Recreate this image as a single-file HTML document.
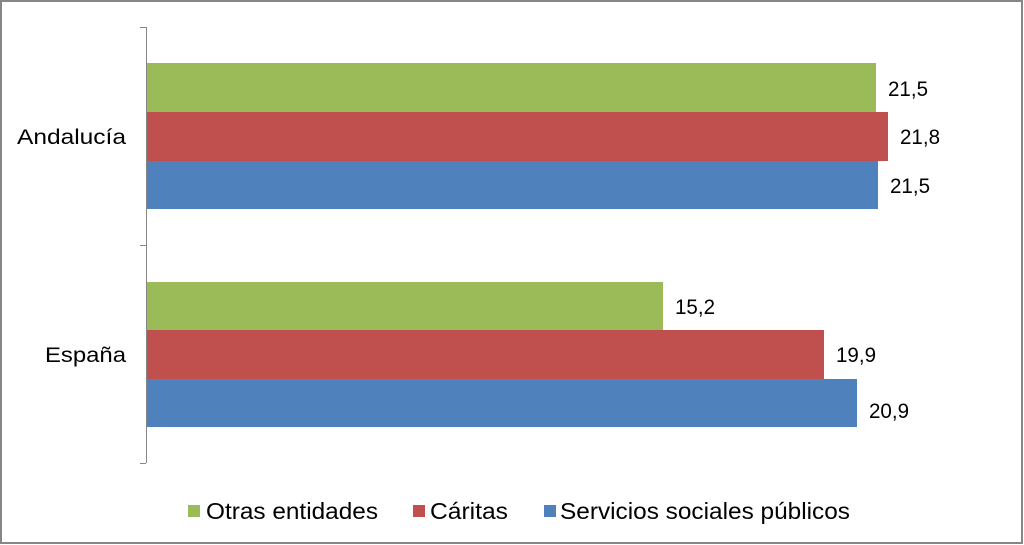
<!DOCTYPE html>
<html><head><meta charset="utf-8"><style>
html,body{margin:0;padding:0;background:#fff}
svg{display:block}
text{font-family:"Liberation Sans",Arial,sans-serif;fill:#000}
</style></head><body>
<svg width="1024" height="545" viewBox="0 0 1024 545" xmlns="http://www.w3.org/2000/svg">
<rect x="1" y="1" width="1021" height="542" fill="#fff" stroke="#868686" stroke-width="2"/>
<rect x="146" y="63" width="730" height="49" fill="#9BBB59"/>
<rect x="146" y="112" width="742" height="49" fill="#C0504D"/>
<rect x="146" y="161" width="732" height="48" fill="#4F81BD"/>
<rect x="146" y="282" width="517" height="48" fill="#9BBB59"/>
<rect x="146" y="330" width="678" height="49" fill="#C0504D"/>
<rect x="146" y="379" width="711" height="48" fill="#4F81BD"/>
<g stroke="#868686" stroke-width="1" fill="none">
<line x1="146.5" y1="27" x2="146.5" y2="463"/>
<line x1="140" y1="27.5" x2="146" y2="27.5"/>
<line x1="140" y1="245.5" x2="146" y2="245.5"/>
<line x1="140" y1="463.5" x2="146" y2="463.5"/>
</g>
<g font-size="21">
<text x="17" y="144" textLength="109" lengthAdjust="spacingAndGlyphs">Andalucía</text>
<text x="45" y="362" textLength="81" lengthAdjust="spacingAndGlyphs">España</text>
<text x="888" y="96" textLength="40" lengthAdjust="spacingAndGlyphs">21,5</text>
<text x="900" y="144" textLength="40" lengthAdjust="spacingAndGlyphs">21,8</text>
<text x="890" y="193" textLength="40" lengthAdjust="spacingAndGlyphs">21,5</text>
<text x="675" y="314" textLength="40" lengthAdjust="spacingAndGlyphs">15,2</text>
<text x="836" y="362" textLength="40" lengthAdjust="spacingAndGlyphs">19,9</text>
<text x="869" y="418" textLength="40" lengthAdjust="spacingAndGlyphs">20,9</text>
</g>
<rect x="188" y="505" width="12" height="12" fill="#9BBB59"/>
<rect x="413" y="505" width="12" height="12" fill="#C0504D"/>
<rect x="544" y="505" width="12" height="12" fill="#4F81BD"/>
<g font-size="23">
<text x="206" y="519" textLength="172" lengthAdjust="spacingAndGlyphs">Otras entidades</text>
<text x="430" y="519" textLength="78" lengthAdjust="spacingAndGlyphs">Cáritas</text>
<text x="560" y="519" textLength="290" lengthAdjust="spacingAndGlyphs">Servicios sociales públicos</text>
</g>
</svg>
</body></html>
